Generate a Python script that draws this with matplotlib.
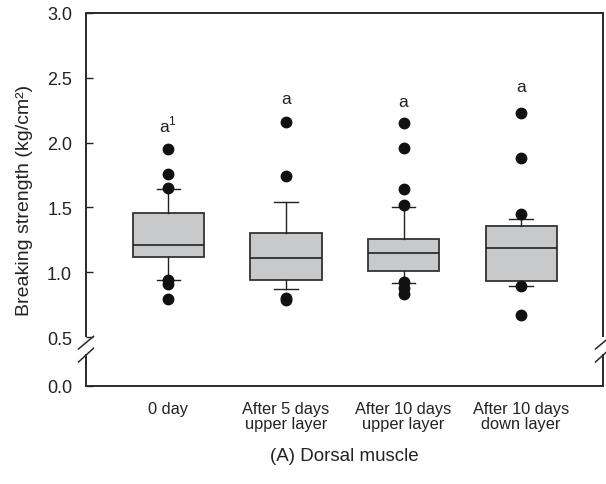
import numpy as np
import matplotlib
matplotlib.use("Agg")
import matplotlib.pyplot as plt
from matplotlib.transforms import blended_transform_factory

plt.rcParams['font.family'] = ['Liberation Sans', 'DejaVu Sans']
plt.rcParams['mathtext.fontset'] = 'custom'
plt.rcParams['mathtext.rm'] = 'Liberation Sans'

categories = ["0 day", "After 5 days\nupper layer", "After 10 days\nupper layer", "After 10 days\ndown layer"]
q1 = [1.12, 0.94, 1.01, 0.93]
median = [1.21, 1.11, 1.15, 1.19]
q3 = [1.46, 1.30, 1.26, 1.36]
whisker_low = [0.94, 0.87, 0.92, 0.89]
whisker_high = [1.64, 1.54, 1.50, 1.41]
outliers = [
    [1.95, 1.76, 1.65, 0.94, 0.91, 0.79],
    [2.16, 1.74, 0.80, 0.785],
    [2.15, 1.96, 1.64, 1.52, 0.925, 0.88, 0.835],
    [2.23, 1.88, 1.45, 0.89, 0.67],
]
sig_letters = ["a$^{1}$", "a", "a", "a"]
letter_y = [2.14, 2.34, 2.32, 2.435]
yticks = [0.0, 0.5, 1.0, 1.5, 2.0, 2.5, 3.0]

fig = plt.figure(figsize=(6.06, 4.85), dpi=100)
ax = fig.add_axes([86/606, (485-387)/485, (603-86)/606, (387-14)/485])

k = 0.756
def fwd(y):
    y = np.asarray(y, dtype=float)
    return np.where(y >= 0.5, y, 0.5 - (0.5 - y) * k)
def inv(x):
    x = np.asarray(x, dtype=float)
    return np.where(x >= 0.5, x, 0.5 - (0.5 - x) / k)
ax.set_yscale('function', functions=(fwd, inv))

positions = np.arange(1, len(categories) + 1)
stats = []
for i in range(len(categories)):
    stats.append(dict(med=median[i], q1=q1[i], q3=q3[i],
                      whislo=whisker_low[i], whishi=whisker_high[i],
                      fliers=outliers[i], label=categories[i]))

edge = '#333333'
ax.bxp(stats, positions=positions, widths=0.605, capwidths=0.2,
       patch_artist=True, showfliers=True,
       boxprops=dict(facecolor='#c8c9cb', edgecolor=edge, linewidth=1.3),
       medianprops=dict(color='#222222', linewidth=1.2),
       whiskerprops=dict(color='#222222', linewidth=1.0),
       capprops=dict(color='#222222', linewidth=1.0),
       flierprops=dict(marker='o', markerfacecolor='#111111', markeredgecolor='#111111',
                       markersize=7.5))

for p, t, y in zip(positions, sig_letters, letter_y):
    ax.text(p, y, t, ha='center', va='center', fontsize=12.5, color='#222222')

ax.set_xlim(0.30, 4.696)
ax.set_ylim(0, 3.0)
ax.set_yticks(yticks)
ax.set_yticklabels([f"{v:.1f}" for v in yticks])
ax.tick_params(axis='y', direction='in', length=5, width=1.0, labelsize=13,
               colors='#222222', pad=10)
ax.tick_params(axis='x', length=0, labelsize=11.8, pad=11, colors='#222222')
ax.set_xticks(positions)
ax.set_xticklabels(categories, linespacing=0.95)

ax.set_ylabel("Breaking strength (kg/cm²)", fontsize=14, color='#222222', labelpad=10)
ax.set_xlabel("(A) Dorsal muscle", fontsize=13.5, color='#222222', labelpad=12)

# spines with break
ax.spines['left'].set_visible(False)
ax.spines['right'].set_visible(False)
for s in ['top', 'bottom']:
    ax.spines[s].set_linewidth(1.4)
    ax.spines[s].set_color('#2a2a2a')

tr = blended_transform_factory(ax.transAxes, ax.transData)
dx = 7.5 / 517
for xa in (0.0, 1.0):
    ax.plot([xa, xa], [0.5, 3.0], transform=tr, color='#2a2a2a', lw=1.4,
            clip_on=False, solid_capstyle='butt')
    ax.plot([xa, xa], [0.0, 0.33], transform=tr, color='#2a2a2a', lw=1.4,
            clip_on=False, solid_capstyle='butt')
    ax.plot([xa - dx, xa + dx], [0.378, 0.505], transform=tr, color='#2a2a2a',
            lw=1.1, clip_on=False)
    ax.plot([xa - dx, xa + dx], [0.245, 0.385], transform=tr, color='#2a2a2a',
            lw=1.1, clip_on=False)

fig.savefig("out.png", dpi=100)
